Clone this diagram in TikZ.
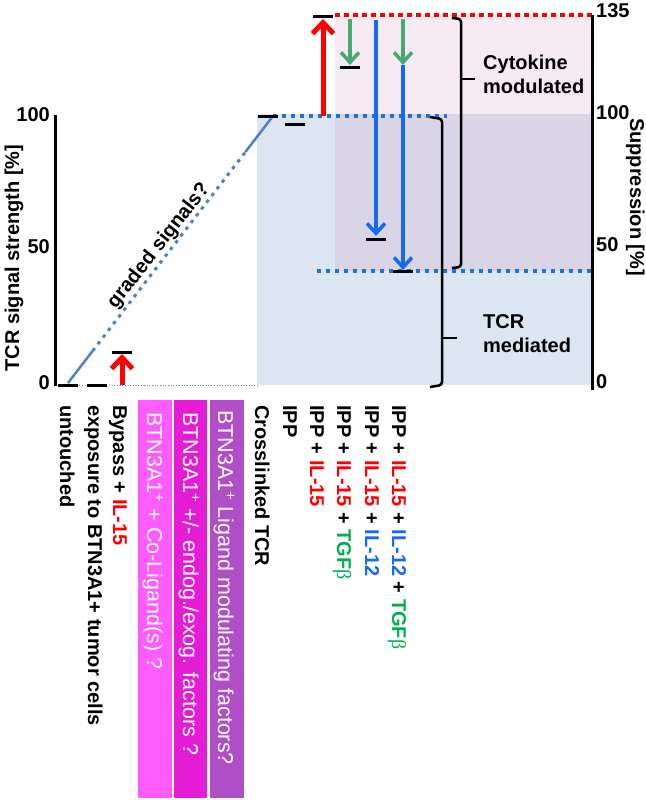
\documentclass[tikz,border=0pt]{standalone}
\usepackage{fontspec}
\setmainfont{Liberation Sans}
\newfontfamily\grkfont{Liberation Serif}
\usepackage{xcolor}
\usepackage{tikz}
\usetikzlibrary{arrows.meta,calc}

\definecolor{ilred}{RGB}{255,0,0}
\definecolor{ilblue}{RGB}{20,105,245}
\definecolor{tgfgreen}{RGB}{0,176,80}
\definecolor{arrgreen}{RGB}{70,170,110}
\definecolor{dotblue}{RGB}{30,115,205}
\definecolor{gradblue}{RGB}{80,130,190}
\definecolor{tcrbg}{RGB}{220,230,242}
\definecolor{cytbg}{RGB}{245,234,242}
\definecolor{mixbg}{RGB}{217,213,231}
\definecolor{pinkbar}{RGB}{255,92,255}
\definecolor{magbar}{RGB}{228,28,214}
\definecolor{purbar}{RGB}{176,78,200}

\newcommand{\ilf}{\textcolor{ilred}{IL-15}}
\newcommand{\ilt}{\textcolor{ilblue}{IL-12}}
\newcommand{\tgf}{\textcolor{tgfgreen}{TGF{\grkfont\mdseries β}}}

\begin{document}
\begin{tikzpicture}[x=1bp,y=-1bp,
    font=\fontsize{20bp}{24bp}\selectfont\bfseries,
    lvl/.style={line width=3bp},
    cond/.style={rotate=-90,anchor=base west,inner sep=0pt},
    qbox/.style={rotate=-90,anchor=base west,inner sep=0pt,text=white,
      font=\fontsize{21.5bp}{24bp}\selectfont\mdseries},
    upar/.style={ilred,line width=5bp,-{Straight Barb[length=11bp,width=21bp]}},
    gnar/.style={arrgreen,line width=3.5bp,-{Straight Barb[length=10bp,width=18bp]}},
    blar/.style={ilblue,line width=3.5bp,-{Straight Barb[length=10bp,width=18bp]}},
    dots/.style={line width=3.5bp,dash pattern=on 4bp off 5bp},
    brace/.style={line width=2.5bp,rounded corners=3bp}]
  \useasboundingbox (0,0) rectangle (646,800);

  % shaded zones
  \fill[tcrbg] (257,114) rectangle (592,385);
  \fill[mixbg] (335,114) rectangle (592,271);
  \fill[cytbg] (335,15) rectangle (592,114);

  % question boxes
  \fill[pinkbar] (138,400) rectangle (172,798);
  \fill[magbar] (174,400) rectangle (207,798);
  \fill[purbar] (210,400) rectangle (244,798);
  \node[qbox] (q-co) at (147,412) {BTN3A1\textsuperscript{+} + Co-Ligand(s) ?};
  \node[qbox] (q-en) at (183,412) {BTN3A1\textsuperscript{+} +/- endog./exog. factors ?};
  \node[qbox] (q-li) at (218,410) {BTN3A1\textsuperscript{+} Ligand modulating factors?};

  % levels
  \coordinate (un) at (68,385);
  \coordinate (ex) at (97,385);
  \coordinate (by) at (122,352);
  \coordinate (xl) at (268,116);
  \coordinate (ipp) at (295,124);
  \coordinate (p15) at (323,17);
  \coordinate (ptg) at (350,68);
  \coordinate (p12) at (376,239);
  \coordinate (pall) at (403,271);

  % graded line
  \coordinate (g0) at (68,383);
  \coordinate (g3) at (273,116);
  \coordinate (g1) at ($(g0)!0.12!(g3)$);
  \coordinate (g2) at ($(g0)!0.865!(g3)$);
  \draw[gradblue,line width=2.5bp] (g0) -- (g1) (g2) -- (g3);
  \draw[gradblue,line width=3bp,dash pattern=on 3.5bp off 5bp] (g1) -- (g2);
  \node[rotate=52] (grad) at (159,246) {graded signals?};

  % dotted limits
  \draw[gray,dotted,line width=0.7bp] (55,385) -- (257,385);
  \draw[dotblue,dots] (g3) -- (447,116);
  \draw[dotblue,dots] (317,271) -- (592,271);
  \draw[ilred,dots,dash pattern=on 4.5bp off 4.5bp] (335,15) -- (592,15);

  % axes
  \draw[line width=3bp] (55,115) -- (55,386);
  \draw[line width=3bp] (592,15) -- (592,390);
  \node[anchor=east,inner sep=0pt] (t100) at (50,115) {100};
  \node[anchor=east,inner sep=0pt] (t50) at (50,247) {50};
  \node[anchor=east,inner sep=0pt] (t0) at (50,383) {0};
  \node[anchor=west,inner sep=0pt] (r135) at (596,11) {135};
  \node[anchor=west,inner sep=0pt] (r100) at (596,113) {100};
  \node[anchor=west,inner sep=0pt] (r50) at (596,245) {50};
  \node[anchor=west,inner sep=0pt] (r0) at (596,382) {0};
  \node[rotate=90,anchor=base] (tsig) at (19,258) {TCR signal strength [\%]};
  \node[rotate=-90,anchor=base] (supp) at (630,197) {Suppression [\%]};

  % arrows
  \draw[upar] (by |- un) -- ([yshift=-2bp]by);
  \draw[upar] (p15 |- xl) -- ([yshift=-2bp]p15);
  \draw[gnar] (350,19) -- ([yshift=3bp]ptg);
  \draw[blar] (376,20) -- ([yshift=3bp]p12);
  \draw[blar] (403,65) -- ([yshift=1bp]pall);
  \draw[gnar] (403,19) -- (403,65);

  \foreach \c in {un,ex,by,xl,ipp,p15,ptg,p12,pall}
    \draw[lvl] ([xshift=-10bp]\c) -- ([xshift=10bp]\c);

  % braces
  \draw[brace] (452,18) -- (461,19) -- (461,267) -- (452,268);
  \draw[line width=2.5bp] (461,79) -- (475,79);
  \draw[brace] (430,117) -- (442,119) -- (442,385) -- (430,387);
  \draw[line width=2.5bp] (442,338) -- (457,338);
  \node[align=left,anchor=west,inner sep=0pt] (cyto) at (483,74) {Cytokine\\modulated};
  \node[align=left,anchor=west,inner sep=0pt] (tcrm) at (483,334) {TCR\\mediated};

  % conditions
  \node[cond] (c-un) at (60,405) {untouched};
  \node[cond] (c-ex) at (88,405) {exposure to BTN3A1+ tumor cells};
  \node[cond] (c-by) at (113,405) {Bypass + \ilf};
  \node[cond] (c-xl) at (255,405) {Crosslinked TCR};
  \node[cond] (c-ipp) at (283,405) {IPP};
  \node[cond] (c-15) at (310,405) {IPP + \ilf};
  \node[cond] (c-tg) at (337,405) {IPP + \ilf{} + \tgf};
  \node[cond] (c-12) at (365,405) {IPP + \ilf{} + \ilt};
  \node[cond] (c-all) at (392,405) {IPP + \ilf{} + \ilt{} + \tgf};
\end{tikzpicture}
\end{document}
